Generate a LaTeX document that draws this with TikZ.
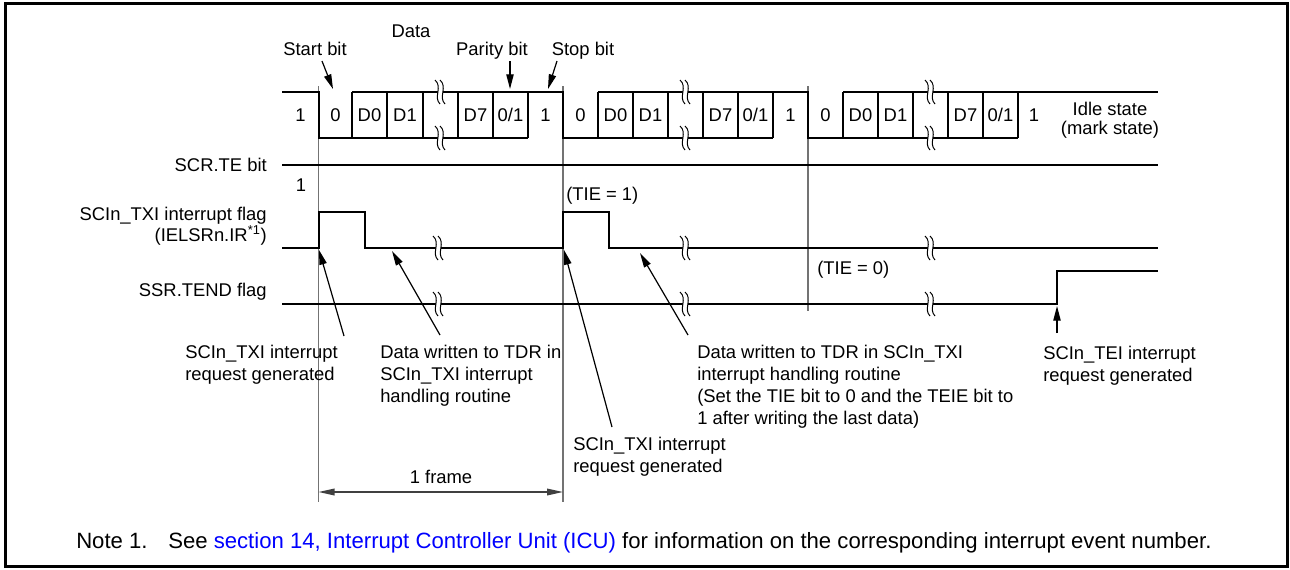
\documentclass[tikz,border=0pt]{standalone}
\usepackage{fontspec}
\setmainfont{Liberation Sans}
\usetikzlibrary{arrows.meta}
\definecolor{linkblue}{RGB}{0,0,255}
\begin{document}
\begin{tikzpicture}[x=0.75pt,y=-0.75pt,
  wave/.style={draw=black, line width=1.3pt},
  guide/.style={draw=black!55, line width=0.8pt},
  ptr/.style={draw=black, line width=0.9pt, -{Triangle[length=11pt,width=5.5pt]}},
  dim/.style={draw=black!75, line width=1pt, {Triangle[length=12pt,width=5pt]}-{Triangle[length=12pt,width=5pt]}},
  lbl/.style={font=\fontsize{13.8}{16.5}\selectfont, inner sep=0pt},
  blk/.style={lbl, align=left, anchor=north west},
  notefont/.style={font=\fontsize{16.6}{18}\selectfont, inner sep=0pt},
  pics/brk/.style={code={
    \fill[white] (-3,-12) .. controls (5,-5) and (-5,5) .. (2,12) -- (7,12) .. controls (0,5) and (10,-5) .. (2,-12) -- cycle;
    \draw[line width=0.75pt] (-3,-12) .. controls (5,-5) and (-5,5) .. (2,12);
    \draw[line width=0.75pt] (2,-12) .. controls (10,-5) and (0,5) .. (7,12);
  }}]
\useasboundingbox (0,0) rectangle (1290,569);
\draw[line width=2.3pt] (5.3,3.6) rectangle (1287.9,566.8);

% guide lines
\draw[guide] (318.5,86) -- (318.5,502);
\draw[guide] (563,86) -- (563,502);
\draw[guide] (808,86) -- (808,311);

% serial data waveform
\draw[wave] (282,92) -- (319,92) -- (319,138) -- (352,138);
\draw[wave] (352,92) -- (563,92) -- (563,138) -- (598,138);
\draw[wave] (352,138) -- (528,138);
\foreach \x in {352,387,423,458,493,528} \draw[wave] (\x,92) -- (\x,138);
\draw[wave] (598,92) -- (808,92) -- (808,138) -- (843,138);
\draw[wave] (598,138) -- (773,138);
\foreach \x in {598,633,668,703,738,773} \draw[wave] (\x,92) -- (\x,138);
\draw[wave] (843,92) -- (1158,92);
\draw[wave] (843,138) -- (1018,138);
\foreach \x in {843,878,913,948,983,1018} \draw[wave] (\x,92) -- (\x,138);
\foreach \x in {438,683,928} {\pic at (\x,92) {brk}; \pic at (\x,138) {brk};}

% bit labels
\foreach \x/\t in {300.5/1,335.5/0,369.5/D0,405/D1,475.5/D7,510.5/0\slash1,545.5/1,
  580.5/0,615.5/D0,650.5/D1,720.5/D7,755.5/0\slash1,790.5/1,
  825.5/0,860.5/D0,895.5/D1,965.5/D7,1000.5/0\slash1,1034/1}
  \node[lbl, anchor=base] at (\x,121.5) {\t};
\node[lbl, anchor=base] (idle) at (1110,115) {Idle state};
\node[lbl, anchor=base] (mark) at (1110,134) {(mark state)};

% top labels and pointers
\node[lbl, anchor=base] (lstart) at (315,55) {Start bit};
\node[lbl, anchor=base] (ldata) at (411,37) {Data};
\node[lbl, anchor=base] (lpar) at (492,55) {Parity bit};
\node[lbl, anchor=base] (lstop) at (583,55) {Stop bit};
\coordinate (sA) at (322,61); \coordinate (sB) at (333,89);
\coordinate (pA) at (510,61); \coordinate (pB) at (510,89);
\coordinate (tA) at (557,61); \coordinate (tB) at (548,89);
\draw[ptr] (sA) -- (sB);
\draw[ptr] (pA) -- (pB);
\draw[ptr] (tA) -- (tB);

% signal names
\node[lbl, anchor=base east] (lte) at (267,171.5) {SCR.TE bit};
\node[lbl, anchor=base] (one) at (301,191.5) {1};
\node[lbl, anchor=base east] (ltxi) at (267,220) {SCIn\_TXI interrupt flag};
\node[lbl, anchor=base east] (lielsr) at (267,241) {(IELSRn.IR\textsuperscript{*1})};
\node[lbl, anchor=base east] (ltend) at (267,296.5) {SSR.TEND flag};

% signals
\draw[wave] (282,165) -- (1158,165);
\draw[wave] (282,248) -- (319,248) -- (319,212) -- (365,212) -- (365,248) -- (563,248) -- (563,212) -- (609,212) -- (609,248) -- (1158,248);
\draw[wave] (282,304) -- (1057,304) -- (1057,271) -- (1158,271);
\foreach \x in {436,683,928} {\pic at (\x,248) {brk}; \pic at (\x,304) {brk};}

\node[lbl, anchor=base west] (tie1) at (566,200) {(TIE = 1)};
\node[lbl, anchor=base west] (tie0) at (817,274) {(TIE = 0)};

% event points on the waveforms
\coordinate (e1) at (319,250);
\coordinate (e2) at (392,251);
\coordinate (e3) at (564,250);
\coordinate (e4) at (640,253);
\coordinate (e5) at (1057,306);

% annotation texts
\node[blk] (b1) at (185,344.5) {SCIn\_TXI interrupt\\request generated};
\node[blk] (b2) at (380,344.5) {Data written to TDR in\\SCIn\_TXI interrupt\\handling routine};
\node[blk] (b3) at (697,344.5) {Data written to TDR in SCIn\_TXI\\interrupt handling routine\\(Set the TIE bit to 0 and the TEIE bit to\\1 after writing the last data)};
\node[blk] (b4) at (573,436.5) {SCIn\_TXI interrupt\\request generated};
\node[blk] (b5) at (1043,346) {SCIn\_TEI interrupt\\request generated};

\coordinate (c1) at (344,336);
\coordinate (c2) at (440,335);
\coordinate (c3) at (612,427);
\coordinate (c4) at (688,335);
\coordinate (c5) at (1057,333);
\draw[ptr] (c1) -- (e1);
\draw[ptr] (c2) -- (e2);
\draw[ptr] (c3) -- (e3);
\draw[ptr] (c4) -- (e4);
\draw[ptr] (c5) -- (e5);

% frame dimension
\coordinate (fL) at (318.5,492);
\coordinate (fR) at (563,492);
\draw[dim] (fL) -- (fR);
\node[lbl, anchor=base] (lframe) at (441,483) {1 frame};

% note
\node[notefont, anchor=base west] (note) at (76,548) {Note 1.};
\node[notefont, anchor=base west] (notetext) at (168,548) {See \textcolor{linkblue}{section 14, Interrupt Controller Unit (ICU)} for information on the corresponding interrupt event number.};
\end{tikzpicture}
\end{document}
